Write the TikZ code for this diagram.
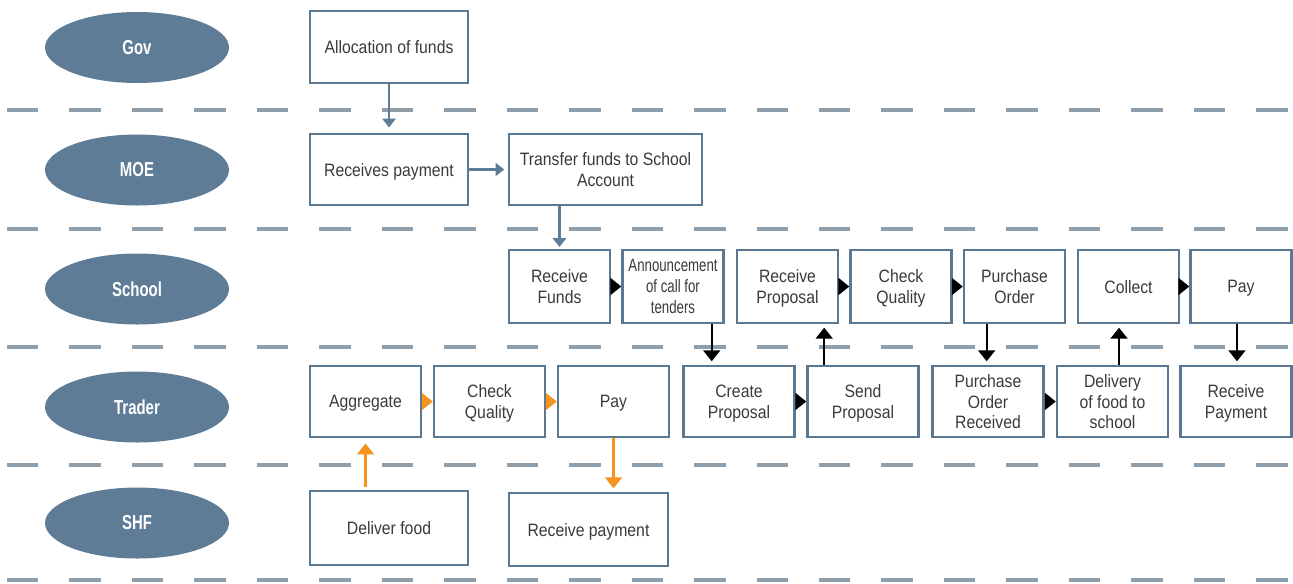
\documentclass[tikz,border=0pt]{standalone}
\usepackage{fontspec}
\setmainfont{Liberation Sans}[FakeStretch=0.88]
\newfontfamily\narrowfont{Liberation Sans}[FakeStretch=0.74]
\usetikzlibrary{shapes.geometric}
\usetikzlibrary{arrows.meta}
\definecolor{lane}{HTML}{5E7C96}
\definecolor{frame}{HTML}{5B7893}
\definecolor{dashgray}{HTML}{8E9EAB}
\definecolor{feed}{HTML}{F7941D}
\definecolor{ink}{HTML}{3A3A3A}
\tikzset{
  every picture/.style={
    line width=1.4pt,
    >={Triangle[width=9.6pt, length=6.2pt]}
  },
  actor/.style={
    ellipse, fill=lane, text=white, inner sep=0pt,
    minimum width=3.68cm, minimum height=1.42cm,
    font=\fontsize{11.5}{12}\selectfont\narrowfont\bfseries
  },
  task/.style={
    draw=frame, text=ink, align=center, inner sep=0pt, text depth=-2.4pt,
    minimum width=2.02cm, minimum height=1.44cm,
    font=\fontsize{10.2}{11.8}\selectfont
  }
}
\begin{document}
\begin{tikzpicture}[
    x=0.02cm, y=-0.02cm,
    wide/.style={minimum width=3.16cm},
    mid/.style={minimum width=2.22cm},
    blue/.style={->, lane, >={Triangle[width=7.4pt, length=5pt]}},
    step arrow/.style={->, line width=1.2pt}
  ]
  \useasboundingbox (0,0) rectangle (1293,583);
  \foreach \y in {110,229,347,465,580}
    \draw [dashgray, line width=1.9pt, dash pattern=on 17.9pt off 17.65pt] (7,\y) -- (1293,\y);
  \foreach \name/\who/\y in {gov/Gov/47.5, moe/MOE/170, school/School/289, trader/Trader/407, shf/SHF/523}
    \node [actor] (\name) at (137,\y) {\who};

  \node [task, wide] (alloc) at (389,47) {Allocation of funds};
  \node [task, wide, minimum height=1.42cm] (recpay) at (389,169.5) {Receives payment};
  \node [task, minimum width=3.86cm, minimum height=1.42cm] (transfer) at (605.5,169.5) {Transfer funds to School\\Account};

  \node [task, minimum height=1.46cm] (rfunds) at (559.5,286.5) {Receive\\Funds};
  \node [task, minimum height=1.46cm, font=\fontsize{10.2}{11.8}\selectfont\narrowfont] (announce) at (673,286.5) {Announcement\\of call for\\tenders};
  \node [task, minimum height=1.46cm] (rprop) at (787.5,286.5) {Receive\\Proposal};
  \node [task, minimum height=1.46cm] (checks) at (901,286.5) {Check\\Quality};
  \node [task, minimum height=1.46cm] (order) at (1014.5,286.5) {Purchase\\Order};
  \node [task, minimum height=1.46cm] (collect) at (1128.5,286.5) {Collect};
  \node [task, minimum height=1.46cm] (pays) at (1241,286.5) {Pay};

  \node [task, mid, minimum height=1.42cm] (aggregate) at (365.5,401.5) {Aggregate};
  \node [task, mid, minimum height=1.42cm] (checkt) at (489.5,401.5) {Check\\Quality};
  \node [task, mid, minimum height=1.42cm] (payt) at (613.5,401.5) {Pay};
  \node [task, mid, minimum height=1.42cm] (create) at (739,401.5) {Create\\Proposal};
  \node [task, mid, minimum height=1.42cm] (send) at (863,401.5) {Send\\Proposal};
  \node [task, mid, minimum height=1.42cm] (received) at (988,401.5) {Purchase\\Order\\Received};
  \node [task, mid, minimum height=1.42cm] (delivery) at (1112.5,401.5) {Delivery\\of food to\\school};
  \node [task, mid, minimum height=1.42cm] (getpaid) at (1236,401.5) {Receive\\Payment};

  \node [task, wide, minimum height=1.48cm] (deliver) at (389,528) {Deliver food};
  \node [task, minimum width=3.18cm, minimum height=1.46cm] (farmpay) at (588.5,529.5) {Receive payment};

  \coordinate (tender out) at ([xshift=-7.4pt]announce.south east);
  \coordinate (proposal out) at ([xshift=10.2pt]send.north west);
  \coordinate (order out) at ([xshift=13.6pt]order.south west);
  \coordinate (food out) at ([xshift=3.7pt]delivery.north);
  \coordinate (pay out) at ([xshift=-2.3pt]pays.south);
  \coordinate (farm out) at ([yshift=1.7pt]deliver.north -| aggregate.south);

  \draw [blue, shorten >=3pt] (alloc) -- (recpay);
  \draw [blue, shorten >=2pt] (recpay) -- (transfer);
  \draw [blue, shorten >=1pt] (transfer.south -| rfunds.north) -- (rfunds.north);

  \draw [step arrow] (rfunds) -- (announce);
  \draw [step arrow] (rprop) -- (checks);
  \draw [step arrow] (checks) -- (order);
  \draw [step arrow] (collect) -- (pays);
  \draw [step arrow] (create) -- (send);
  \draw [step arrow] (received) -- (delivery);
  \draw [step arrow, feed] (aggregate) -- (checkt);
  \draw [step arrow, feed] (checkt) -- (payt);

  \draw [step arrow, shorten >=2pt] (tender out) -- (tender out |- create.north);
  \draw [step arrow, shorten >=2pt] (proposal out) -- (proposal out |- rprop.south);
  \draw [step arrow, shorten >=2pt] (order out) -- (order out |- received.north);
  \draw [step arrow, shorten >=2pt] (food out) -- (food out |- collect.south);
  \draw [step arrow, shorten >=2pt] (pay out) -- (pay out |- getpaid.north);
  \draw [step arrow, feed, shorten >=3pt] (farm out) -- (aggregate.south);
  \draw [step arrow, feed, shorten >=2pt] (payt.south) -- (payt.south |- farmpay.north);
\end{tikzpicture}
\end{document}
